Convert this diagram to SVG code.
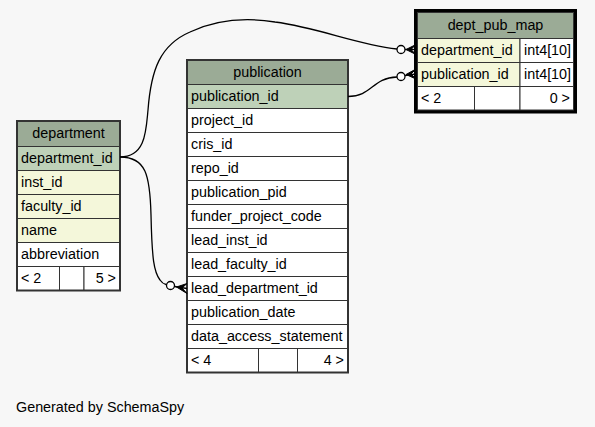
<svg xmlns="http://www.w3.org/2000/svg" width="595" height="427" viewBox="0 0 595 427">
<style>
text{font-family:"Liberation Sans",Arial,sans-serif;font-size:14.35px;fill:#000}
.hd{fill:#9bab96}
.pk{fill:#bed1b8}
.ix{fill:#f4f7da}
.bd{fill:#ffffff}
.c{stroke:#333;stroke-width:1}
.ob{fill:none;stroke:#333;stroke-width:2}
.mid{text-anchor:middle}
.end{text-anchor:end}
.e{fill:none;stroke:#000;stroke-width:1.3}
.o{fill:#fff;stroke:#000;stroke-width:1.3}
.cr{fill:#000;stroke:#000;stroke-width:1}
</style>
<rect width="595" height="427" fill="#f7f7f7"/>

<g id="department">
<rect class="hd c" x="17" y="121" width="103" height="25.5"/>
<rect class="pk c" x="17" y="146.5" width="103" height="24"/>
<rect class="ix c" x="17" y="170.5" width="103" height="24"/>
<rect class="ix c" x="17" y="194.5" width="103" height="24"/>
<rect class="ix c" x="17" y="218.5" width="103" height="24"/>
<rect class="bd c" x="17" y="242.5" width="103" height="24"/>
<rect class="bd c" x="17" y="266.5" width="42.5" height="24"/>
<rect class="bd c" x="59.5" y="266.5" width="24.5" height="24"/>
<rect class="bd c" x="84" y="266.5" width="36" height="24"/>
<rect class="ob" x="17" y="121" width="103" height="169.5"/>
<text class="mid" x="68.5" y="138">department</text>
<text x="21" y="162.5">department_id</text>
<text x="21" y="186.5">inst_id</text>
<text x="21" y="210.5">faculty_id</text>
<text x="21" y="234.5">name</text>
<text x="21" y="258.5">abbreviation</text>
<text x="21" y="282.5">&lt; 2</text>
<text class="end" x="116" y="282.5">5 &gt;</text>
</g>

<g id="publication">
<rect class="hd c" x="187" y="60" width="161" height="24.5"/>
<rect class="pk c" x="187" y="84.5" width="161" height="24"/>
<rect class="bd c" x="187" y="108.5" width="161" height="24"/>
<rect class="bd c" x="187" y="132.5" width="161" height="24"/>
<rect class="bd c" x="187" y="156.5" width="161" height="24"/>
<rect class="bd c" x="187" y="180.5" width="161" height="24"/>
<rect class="bd c" x="187" y="204.5" width="161" height="24"/>
<rect class="bd c" x="187" y="228.5" width="161" height="24"/>
<rect class="bd c" x="187" y="252.5" width="161" height="24"/>
<rect class="bd c" x="187" y="276.5" width="161" height="24"/>
<rect class="bd c" x="187" y="300.5" width="161" height="24"/>
<rect class="bd c" x="187" y="324.5" width="161" height="24"/>
<rect class="bd c" x="187" y="348.5" width="71.5" height="24"/>
<rect class="bd c" x="258.5" y="348.5" width="39" height="24"/>
<rect class="bd c" x="297.5" y="348.5" width="50.5" height="24"/>
<rect class="ob" x="187" y="60" width="161" height="312.5"/>
<text class="mid" x="267.5" y="76.5">publication</text>
<text x="191" y="100.5">publication_id</text>
<text x="191" y="124.5">project_id</text>
<text x="191" y="148.5">cris_id</text>
<text x="191" y="172.5">repo_id</text>
<text x="191" y="196.5">publication_pid</text>
<text x="191" y="220.5">funder_project_code</text>
<text x="191" y="244.5">lead_inst_id</text>
<text x="191" y="268.5">lead_faculty_id</text>
<text x="191" y="292.5">lead_department_id</text>
<text x="191" y="316.5">publication_date</text>
<text x="191" y="340.5">data_access_statement</text>
<text x="191" y="364.5">&lt; 4</text>
<text class="end" x="344" y="364.5">4 &gt;</text>
</g>

<g id="dept_pub_map">
<rect class="hd c" x="417" y="12" width="157" height="26.5"/>
<rect class="ix c" x="417" y="38.5" width="103" height="24"/>
<rect class="bd c" x="520" y="38.5" width="54" height="24"/>
<rect class="ix c" x="417" y="62.5" width="103" height="24"/>
<rect class="bd c" x="520" y="62.5" width="54" height="24"/>
<rect class="bd c" x="417" y="86.5" width="57.5" height="24"/>
<rect class="bd c" x="474.5" y="86.5" width="45.5" height="24"/>
<rect class="bd c" x="520" y="86.5" width="54" height="24"/>
<rect class="ob" x="417" y="12" width="157" height="98.5"/>
<rect fill="none" stroke="#000" stroke-width="3" x="415.5" y="10.5" width="160" height="101.5"/>
<text class="mid" x="495.5" y="30">dept_pub_map</text>
<text x="421" y="54.5">department_id</text>
<text x="524" y="54.5">int4[10]</text>
<text x="421" y="78.5">publication_id</text>
<text x="524" y="78.5">int4[10]</text>
<text x="421" y="102.5">&lt; 2</text>
<text class="end" x="570" y="102.5">0 &gt;</text>
</g>

<g id="connectors">
<path class="e" d="M120,157 C146,157 146,130 148,110 C151,70 160,45 190,32 C220,18 250,18 275,22 C320,28 355,44 397,49"/>
<circle class="o" cx="401" cy="49.5" r="4"/>
<path class="e" d="M405,49.5 L416,49.5"/>
<polygon class="cr" points="416,44.5 406,49.5 416,54.5 411,49.5"/>

<path class="e" d="M120,157 C146,157 150,175 151,215 C152,260 154,272 160,280 C162,283 164,284 166,284.5"/>
<circle class="o" cx="170.5" cy="285.5" r="4"/>
<path class="e" d="M174.5,286.5 L187,288.5"/>
<polygon class="cr" points="187,283.5 176.5,287 187,293.5 182,288"/>

<path class="e" d="M348,96.5 C372,96.5 372,78 397,77"/>
<circle class="o" cx="401" cy="76.5" r="4"/>
<path class="e" d="M405,75.5 L416,74"/>
<polygon class="cr" points="416,69 406,74.5 416,79 411,74"/>
</g>

<text x="16" y="412">Generated by SchemaSpy</text>
</svg>
